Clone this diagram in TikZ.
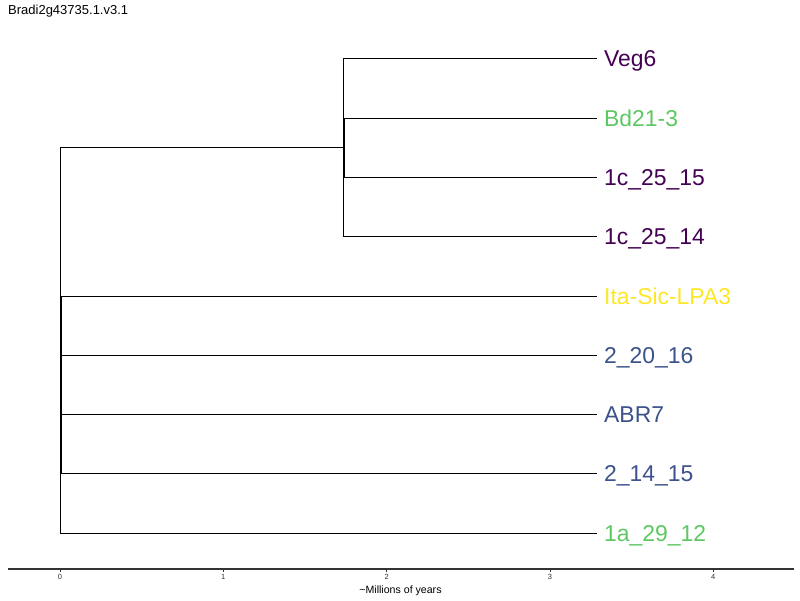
\documentclass[tikz,border=0pt]{standalone}
\usepackage{fontspec}
\setmainfont{Liberation Sans}
\definecolor{vpurple}{HTML}{440154}
\definecolor{vblue}{HTML}{3B528B}
\definecolor{vgreen}{HTML}{5DC863}
\definecolor{vyellow}{HTML}{FDE725}
\definecolor{axisgrey}{HTML}{333333}
\tikzset{
  branch/.style={draw=black, line width=0.9pt},
  tiplabel/.style={anchor=base west, inner sep=0pt, font=\fontsize{22.9}{25}\selectfont},
  ticklabel/.style={anchor=north, inner sep=0pt, font=\fontsize{7.5}{8}\selectfont, text=axisgrey},
}
\begin{document}
\begin{tikzpicture}[x=1pt,y=-1pt]
\useasboundingbox (0,0) rectangle (800,600);
% title
\node[anchor=base west, inner sep=0pt, font=\fontsize{13}{15}\selectfont] (title) at (8,14) {Bradi2g43735.1.v3.1};
% internal nodes
\coordinate (root) at (60,147);
\coordinate (rootb) at (60,533);
\coordinate (poly) at (61,296);
\coordinate (polyb) at (61,473);
\coordinate (clade) at (343,147);
\coordinate (cladet) at (343,58);
\coordinate (cladeb) at (343,236);
\coordinate (sub) at (344,118);
\coordinate (subb) at (344,177);
% tips
\foreach \n/\y in {t1/58,t2/118,t3/177,t4/236,t5/296,t6/355,t7/414,t8/473,t9/533}
  \coordinate (\n) at (597,\y);
% labels
\node[tiplabel, text=vpurple] (l1) at (604,66) {Veg6};
\node[tiplabel, text=vgreen] (l2) at (604,126) {Bd21-3};
\node[tiplabel, text=vpurple] (l3) at (604,185) {1c\_25\_15};
\node[tiplabel, text=vpurple] (l4) at (604,244) {1c\_25\_14};
\node[tiplabel, text=vyellow] (l5) at (604,304) {Ita-Sic-LPA3};
\node[tiplabel, text=vblue] (l6) at (604,363) {2\_20\_16};
\node[tiplabel, text=vblue] (l7) at (604,422) {ABR7};
\node[tiplabel, text=vblue] (l8) at (604,481) {2\_14\_15};
\node[tiplabel, text=vgreen] (l9) at (604,541) {1a\_29\_12};
% tree
\draw[branch] (root) -- (rootb);
\draw[branch] (poly) -- (polyb);
\draw[branch] (root) -- (clade);
\draw[branch] (cladet) -- (cladeb);
\draw[branch] (sub) -- (subb);
\draw[branch] (cladet) -- (t1);
\draw[branch] (sub) -- (t2);
\draw[branch] (subb) -- (t3);
\draw[branch] (cladeb) -- (t4);
\draw[branch] (poly) -- (t5);
\draw[branch] (poly |- t6) -- (t6);
\draw[branch] (poly |- t7) -- (t7);
\draw[branch] (polyb) -- (t8);
\draw[branch] (rootb) -- (t9);
% axis
\coordinate (axL) at (8,569);
\coordinate (axR) at (794,569);
\draw[axisgrey, line width=1.1pt] (axL) -- (axR);
\foreach \v [count=\i from 0] in {60,223.3,386.6,549.9,713.2} {
  \coordinate (tk\i) at (\v,569);
  \draw[axisgrey, line width=0.5pt] (tk\i) -- ++(0,3);
  \node[ticklabel] (tl\i) at (\v,574) {\i};
}
\node[anchor=base, inner sep=0pt, font=\fontsize{10.6}{12}\selectfont] (axtitle) at (400.5,593) {\textasciitilde Millions of years};
\end{tikzpicture}
\end{document}
